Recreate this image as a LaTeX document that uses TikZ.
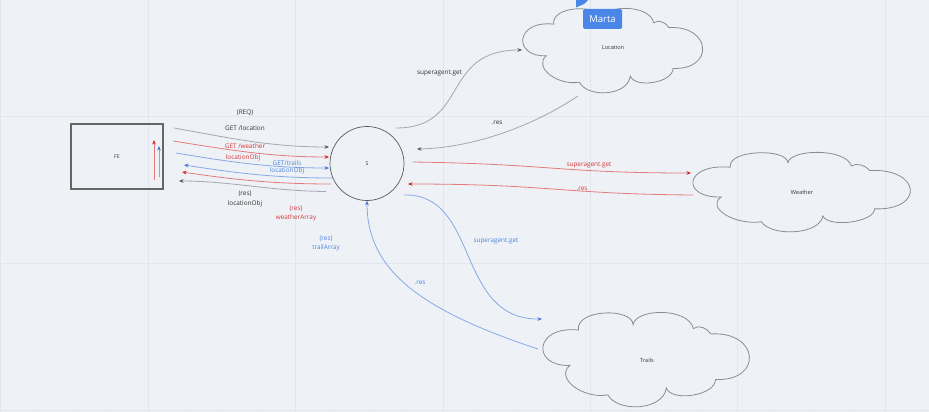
\documentclass[tikz,border=0pt]{standalone}
\usepackage{fontspec}
\setmainfont{Open Sans}
\usetikzlibrary{arrows.meta}
\definecolor{bg}{HTML}{EEF2F7}
\definecolor{gridmaj}{HTML}{E2E7EE}
\definecolor{gridmin}{HTML}{ECF0F5}
\definecolor{gline}{HTML}{A3A7AF}
\definecolor{ghead}{HTML}{4F5566}
\definecolor{rline}{HTML}{E47A7A}
\definecolor{rhead}{HTML}{D42020}
\definecolor{rtext}{HTML}{D23A3A}
\definecolor{bline}{HTML}{86A9E6}
\definecolor{bhead}{HTML}{3D74D6}
\definecolor{btext}{HTML}{4F82DD}
\definecolor{dtext}{HTML}{333333}
\definecolor{badge}{HTML}{4A86E8}
\tikzset{
  lbl/.style={font=\fontsize{6.4}{7}\selectfont, text=dtext, inner sep=0pt},
  rlbl/.style={lbl, text=rtext},
  blbl/.style={lbl, text=btext},
  small/.style={font=\fontsize{5.6}{6}\selectfont, text=dtext, inner sep=0pt},
  garrow/.style={draw=gline, line width=0.8pt, -{Stealth[length=4.5pt,width=3.6pt,color=ghead]}},
  rarrow/.style={draw=rline, line width=0.8pt, -{Stealth[length=4.5pt,width=3.6pt,color=rhead]}},
  barrow/.style={draw=bline, line width=0.8pt, -{Stealth[length=4.5pt,width=3.6pt,color=bhead]}},
  cloudline/.style={draw=black!45, line width=0.8pt},
  cloudpic/.pic={
    \path[cloudline] (0.174,0.81)
      .. controls (0.16,1.03) and (0.43,1.05) .. (0.436,0.868)
      .. controls (0.45,1.04) and (0.70,1.05) .. (0.724,0.826)
      .. controls (0.75,0.87) and (0.79,0.83) .. (0.808,0.769)
      .. controls (1.04,0.80) and (1.06,0.27) .. (0.830,0.289)
      .. controls (0.83,0.12) and (0.62,0.05) .. (0.595,0.20)
      .. controls (0.58,-0.04) and (0.36,-0.06) .. (0.315,0.128)
      .. controls (0.20,0.08) and (0.06,0.30) .. (0.133,0.438)
      .. controls (-0.05,0.42) and (-0.04,0.86) .. (0.174,0.81) -- cycle;
  },
}
\begin{document}
\begin{tikzpicture}[x=1pt,y=1pt]
\fill[bg] (0,0) rectangle (929,-412);
\useasboundingbox (0,0) rectangle (929,-412);
% grid
\foreach \i in {0,...,25} \draw[gridmin, line width=0.5pt] ({0.6+36.85*\i},0) -- ({0.6+36.85*\i},-412);
\foreach \j in {-3,...,8} \draw[gridmin, line width=0.5pt] (0,{-116-36.85*\j}) -- (929,{-116-36.85*\j});
\foreach \i in {0,...,6} \draw[gridmaj, line width=0.6pt] ({0.6+147.4*\i},0) -- ({0.6+147.4*\i},-412);
\foreach \j in {0,...,2} \draw[gridmaj, line width=0.6pt] (0,{-116-147*\j}) -- (929,{-116-147*\j});

% main nodes
\node[draw=black!60, line width=1.2pt, minimum width=92pt, minimum height=65pt, inner sep=0pt, font=\fontsize{5.2}{6}\selectfont, text=dtext] (fe) at (117,-156.5) {FE};
\node[draw=black!65, line width=0.7pt, circle, minimum size=74pt, inner sep=0pt, font=\fontsize{5.2}{6}\selectfont, text=dtext] (s) at (367,-163.5) {S};

% clouds
\pic at (522,-93) [xscale=182, yscale=85] {cloudpic};
\pic at (692,-232) [xscale=220, yscale=80] {cloudpic};
\pic at (542,-407) [xscale=209, yscale=95] {cloudpic};
\node[small] (loc) at (613,-47) {Location};
\node[small] (wea) at (802,-192) {Weather};
\node[small] (tra) at (647,-360) {Trails};

% Marta badge
\fill[badge] (576,-7.5) -- (576,0) -- (588,0) -- (584,-4) -- cycle;
\node[fill=badge, rounded corners=1.5pt, minimum width=39pt, minimum height=20pt, inner sep=0pt, text=white, font=\fontsize{9.5}{10}\selectfont] (marta) at (602.5,-19) {Marta};

% FE internal arrows
\coordinate (fr1) at (154,-180); \coordinate (fr2) at (154,-140);
\coordinate (fb1) at (159,-177); \coordinate (fb2) at (159,-146);
\draw[rarrow] (fr1) -- (fr2);
\draw[barrow] (fb1) -- (fb2);

% FE <-> S
\coordinate (g1a) at (174,-128); \coordinate (g1b) at (329,-147);
\coordinate (r1a) at (173,-141); \coordinate (r1b) at (329,-157);
\coordinate (b1a) at (176,-153); \coordinate (b1b) at (329,-168);
\coordinate (b2a) at (332,-178); \coordinate (b2b) at (184,-165);
\coordinate (r2a) at (331,-184); \coordinate (r2b) at (182,-172);
\coordinate (g2a) at (326,-191.5); \coordinate (g2b) at (179,-181);
\draw[garrow] (g1a) .. controls (230,-138) and (270,-147) .. (g1b);
\draw[rarrow] (r1a) .. controls (230,-150) and (270,-157) .. (r1b);
\draw[barrow] (b1a) .. controls (230,-162) and (270,-168) .. (b1b);
\draw[barrow] (b2a) .. controls (270,-178) and (230,-172) .. (b2b);
\draw[rarrow] (r2a) .. controls (270,-184) and (230,-179) .. (r2b);
\draw[garrow] (g2a) .. controls (270,-191) and (230,-181) .. (g2b);

\node[lbl] (t1) at (245,-113) {(REQ)};
\node[lbl] (t2) at (245,-128) {GET /location};
\node[rlbl] (t3) at (245,-146.5) {GET /weather};
\node[rlbl] (t4) at (243,-157.5) {locationObj};
\node[blbl] (t5) at (287,-163) {GET/trails};
\node[blbl] (t6) at (287,-170.5) {locationObj};
\node[lbl] (t7) at (245,-193.5) {(res)};
\node[lbl] (t8) at (245,-203.5) {locationObj};
\node[rlbl] (t9) at (296,-209) {(res)};
\node[rlbl] (t10) at (296,-218) {weatherArray};
\node[blbl] (t11) at (326,-238.5) {(res)};
\node[blbl] (t12) at (326,-248) {trailArray};

% S <-> Location
\coordinate (lg1) at (396,-128); \coordinate (lg2) at (522,-50);
\coordinate (lr1) at (578,-96); \coordinate (lr2) at (417,-149);
\draw[garrow] (lg1) .. controls (470,-128) and (440,-50) .. (lg2);
\draw[garrow] (lr1) .. controls (530,-128) and (470,-148) .. (lr2);
\node[lbl] (t13) at (439.5,-73) {superagent.get};
\node[lbl] (t14) at (497,-122.5) {.res};

% S <-> Weather
\coordinate (wg1) at (413,-162); \coordinate (wg2) at (691,-173);
\coordinate (wr1) at (693,-195); \coordinate (wr2) at (408,-184);
\draw[rarrow] (wg1) .. controls (550,-164) and (560,-173) .. (wg2);
\draw[rarrow] (wr1) .. controls (560,-194) and (550,-184) .. (wr2);
\node[rlbl] (t15) at (589,-165.5) {superagent.get};
\node[rlbl] (t16) at (582,-189) {.res};

% S <-> Trails
\coordinate (tg1) at (404,-195); \coordinate (tg2) at (542,-319);
\coordinate (tr1) at (538,-349);
\draw[barrow] (tg1) .. controls (480,-193) and (455,-320) .. (tg2);
\draw[barrow] (tr1) .. controls (420,-310) and (367,-270) .. (s.south);
\node[blbl] (t17) at (496,-241) {superagent.get};
\node[blbl] (t18) at (420,-283) {.res};
\end{tikzpicture}
\end{document}
